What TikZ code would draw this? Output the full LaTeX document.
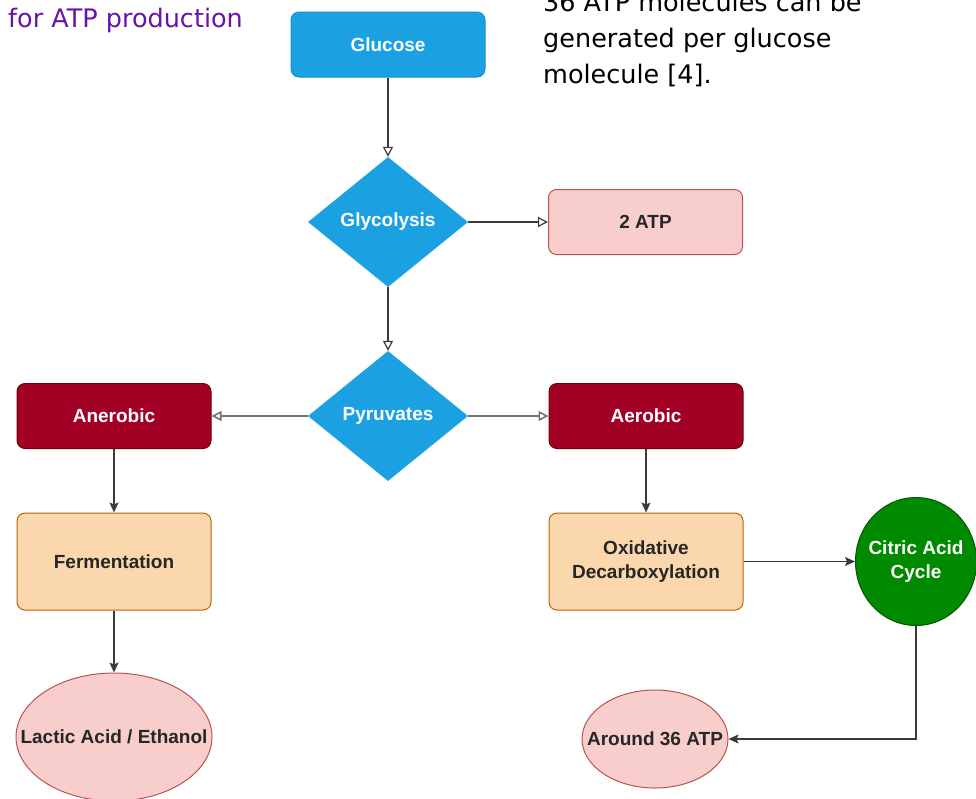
\documentclass[tikz,border=0pt]{standalone}
\usepackage{fontspec}
\setmainfont{Liberation Sans}
\newfontfamily\notefont{DejaVu Sans}
\usetikzlibrary{shapes.geometric,arrows.meta}
\definecolor{bluef}{HTML}{1BA1E2}
\definecolor{blued}{HTML}{1590D0}
\definecolor{pinkf}{HTML}{F8CECC}
\definecolor{pinkd}{HTML}{B85450}
\definecolor{redf}{HTML}{A20025}
\definecolor{redd}{HTML}{6F0000}
\definecolor{orf}{HTML}{FAD7AC}
\definecolor{ord}{HTML}{B46504}
\definecolor{grf}{HTML}{008A00}
\definecolor{grd}{HTML}{005700}
\definecolor{purp}{HTML}{6A12A8}
\definecolor{lnc}{HTML}{3A3A3A}
\definecolor{txt}{HTML}{262626}
\tikzset{
  lbl/.style={font=\bfseries\fontsize{19pt}{24pt}\selectfont, align=center, inner sep=0pt},
  box/.style={lbl, rectangle, rounded corners=8pt, minimum width=194pt, minimum height=65pt, line width=1pt},
  dia/.style={lbl, diamond, aspect=1.23, minimum width=160pt, minimum height=130pt, fill=bluef, text=white},
  ell/.style={lbl, ellipse, line width=1pt},
  bluebox/.style={fill=bluef, draw=blued, text=white},
  pinkbox/.style={fill=pinkf, draw=pinkd, text=txt},
  redbox/.style={fill=redf, draw=redd, text=white},
  orbox/.style={fill=orf, draw=ord, text=txt},
  greenbox/.style={fill=grf, draw=grd, text=white},
  openarr/.style={draw=lnc, line width=1.2pt, -{Triangle[open, length=10pt, width=10pt]}},
  grayarr/.style={draw=lnc!70, line width=1.6pt, -{Triangle[open, length=10pt, width=10pt]}},
  fillarr/.style={draw=lnc, line width=1.2pt, -{Stealth[length=10pt, width=9pt, inset=2pt]}},
  note/.style={font=\notefont\fontsize{25.5pt}{36pt}\selectfont, inner sep=0pt, anchor=base west}
}
\begin{document}
\begin{tikzpicture}[x=1pt,y=-1pt]
\useasboundingbox (0,0) rectangle (976,798);
\clip (0,0) rectangle (976,798);

% notes
\node[note, text=purp] (n1) at (8,27) {for ATP production};
\node[note, text=black] (n2) at (543,11) {36 ATP molecules can be};
\node[note, text=black] (n3) at (543,47) {generated per glucose};
\node[note, text=black] (n4) at (543,83) {molecule [4].};

% nodes
\node[box, bluebox] (glu) at (388,44.5) {Glucose};
\node[dia] (gly) at (388,222) {Glycolysis};
\node[box, pinkbox] (atp2) at (645.5,222) {2 ATP};
\node[dia] (pyr) at (388,416) {Pyruvates};
\node[box, redbox] (anr) at (114,416) {Anerobic};
\node[box, redbox] (aer) at (646,416) {Aerobic};
\node[box, orbox, minimum height=97pt] (fer) at (114,561.5) {Fermentation};
\node[box, orbox, minimum height=97pt] (oxd) at (646,561.5) {Oxidative\\Decarboxylation};
\node[ell, pinkbox, minimum width=196pt, minimum height=128pt] (lac) at (114,737) {\makebox[0pt]{Lactic Acid / Ethanol}};
\node[ell, greenbox, minimum width=121pt, minimum height=128pt] (cit) at (916,561.5) {\makebox[0pt]{Citric Acid}\\\makebox[0pt]{Cycle}};
\node[ell, pinkbox, minimum width=146pt, minimum height=98pt] (ar) at (655,739) {\makebox[0pt]{Around 36 ATP}};

% connectors
\draw[openarr] (glu) -- (gly);
\draw[openarr] (gly) -- (atp2);
\draw[openarr] (gly) -- (pyr);
\draw[grayarr] (pyr) -- (anr);
\draw[grayarr] (pyr) -- (aer);
\draw[fillarr] (anr) -- (fer);
\draw[fillarr] (fer) -- (lac);
\draw[fillarr] (aer) -- (oxd);
\draw[fillarr] (oxd) -- (cit);
\draw[fillarr] (cit.south) |- (ar.east);
\end{tikzpicture}
\end{document}
